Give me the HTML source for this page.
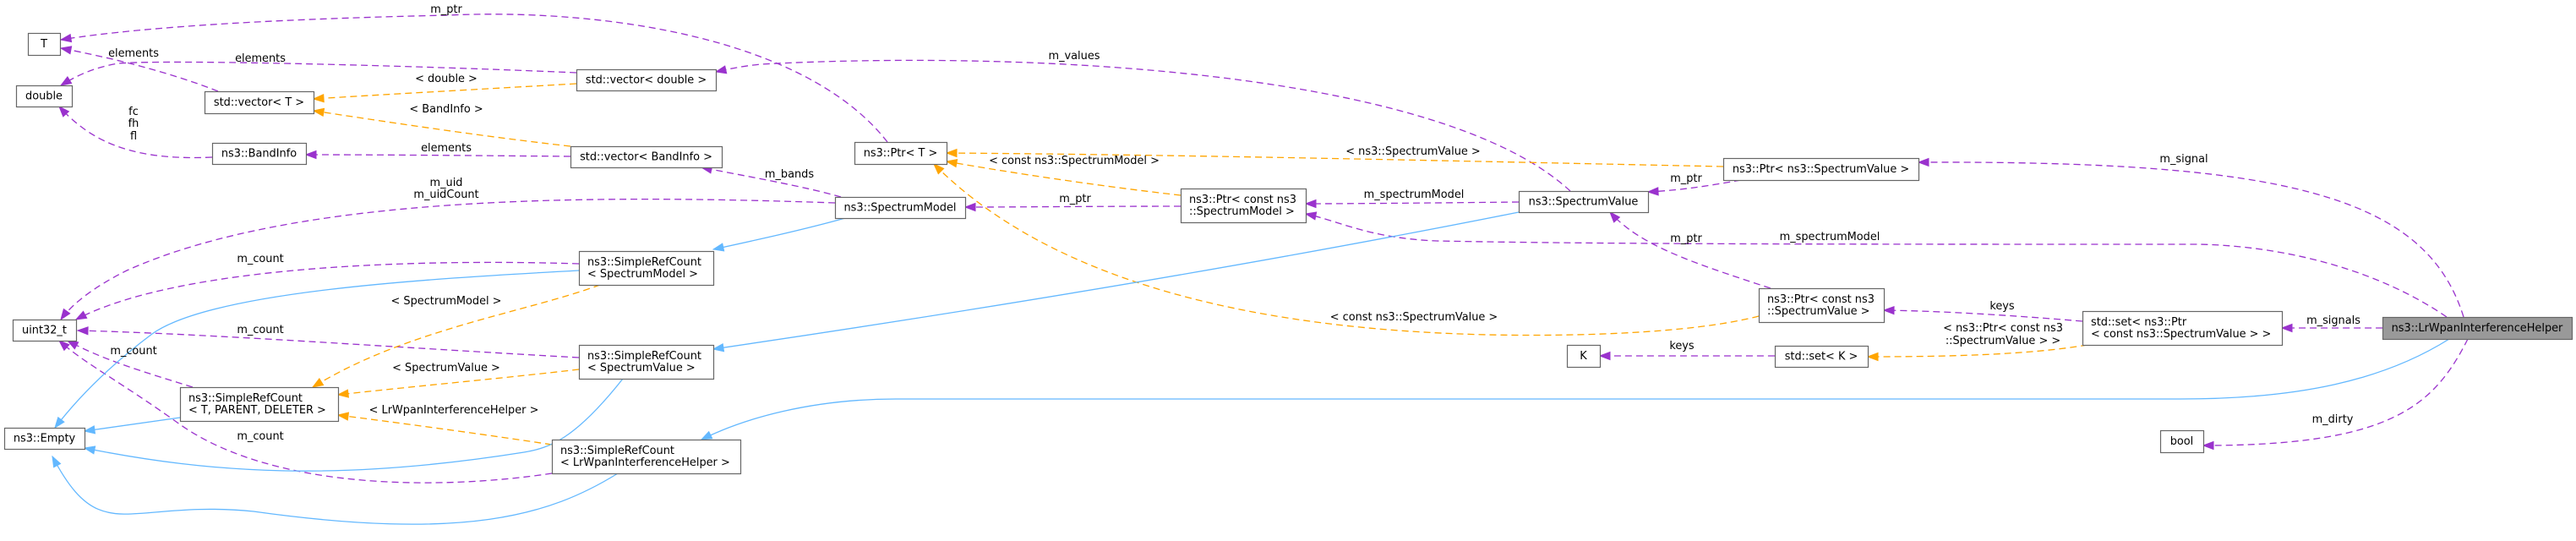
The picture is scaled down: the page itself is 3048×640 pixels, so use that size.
<!DOCTYPE html>
<html><head><meta charset="utf-8"><style>
html,body{margin:0;padding:0;background:#fff;}
svg{display:block;}
text{font-family:"DejaVu Sans","Liberation Sans",sans-serif;font-size:12.9px;fill:#000;}
</style></head><body>
<svg id="g" width="3048" height="640" viewBox="0 0 3048 640" xmlns="http://www.w3.org/2000/svg">
<g id="edges"></g><g id="nodes"></g><g id="labels"></g>
</svg>
<script>
const NS="http://www.w3.org/2000/svg";
const nodes=[
["node-t",33,39,71,65,["T"]],
["node-double",19,101,85,126,["double"]],
["node-vector-t",242,108,371,134,["std::vector< T >"]],
["node-vector-double",682,82,847,107,["std::vector< double >"]],
["node-bandinfo",251,169,362,194,["ns3::BandInfo"]],
["node-vector-bandinfo",675,173,854,198,["std::vector< BandInfo >"]],
["node-spectrummodel",988,233,1142,258,["ns3::SpectrumModel"]],
["node-src-spectrummodel",685,297,844,337,["ns3::SimpleRefCount","< SpectrumModel >"]],
["node-uint32",15,378,90,403,["uint32_t"]],
["node-empty",5,506,100,531,["ns3::Empty"]],
["node-src-generic",213,458,400,498,["ns3::SimpleRefCount","< T, PARENT, DELETER >"]],
["node-src-spectrumvalue",685,408,844,448,["ns3::SimpleRefCount","< SpectrumValue >"]],
["node-src-lrwpan",653,520,876,560,["ns3::SimpleRefCount","< LrWpanInterferenceHelper >"]],
["node-ptr-t",1011,168,1120,194,["ns3::Ptr< T >"]],
["node-ptr-const-spectrummodel",1397,223,1545,263,["ns3::Ptr< const ns3","::SpectrumModel >"]],
["node-spectrumvalue",1797,226,1950,251,["ns3::SpectrumValue"]],
["node-k",1854,408,1893,434,["K"]],
["node-ptr-spectrumvalue",2039,187,2270,213,["ns3::Ptr< ns3::SpectrumValue >"]],
["node-ptr-const-spectrumvalue",2081,341,2229,381,["ns3::Ptr< const ns3","::SpectrumValue >"]],
["node-set-k",2100,409,2210,434,["std::set< K >"]],
["node-set-ptr",2464,368,2700,408,["std::set< ns3::Ptr","< const ns3::SpectrumValue > >"]],
["node-lrwpan-helper",2819,375,3043,401,["ns3::LrWpanInterferenceHelper"]],
["node-bool",2556,509,2607,535,["bool"]]
];
const P="#9a32cd",O="#ffa500",B="#63b8ff";
const edges=[
["edge-m-ptr-t",P,"M1050,168 C950,40 700,10 530,18 C350,22 180,30 72,47"],
["edge-elements-t",P,"M258,108 C200,85 130,68 72,57"],
["edge-elements-double",P,"M682,86 C500,78 200,70 140,75 C110,80 90,90 72,101"],
["edge-m-values",P,"M1858,226 C1700,80 1200,60 900,76 C880,78 865,81 847,85"],
["edge-fc-fh-fl",P,"M251,186 C160,190 110,170 70,126"],
["edge-elements-bandinfo",P,"M675,185 C560,184 450,183 362,183"],
["edge-m-bands",P,"M995,233 C950,220 880,208 830,198"],
["edge-m-uid",P,"M988,240 C700,230 350,230 150,320 C110,340 85,360 72,378"],
["edge-m-count-srcsm",P,"M685,312 C450,305 200,320 90,378"],
["edge-m-count-srcsv",P,"M685,423 C450,410 250,395 92,391"],
["edge-m-count-generic",P,"M228,458 C170,440 120,425 80,403"],
["edge-m-count-lrwpan",P,"M653,560 C520,580 320,580 210,500 C140,450 100,430 70,403"],
["edge-m-ptr-sm",P,"M1397,244 C1300,244 1200,245 1142,245"],
["edge-m-spectrummodel-sv",P,"M1797,239 C1700,240 1600,241 1545,241"],
["edge-m-ptr-sv",P,"M2060,213 C2020,220 1990,225 1950,227"],
["edge-m-spectrummodel-lr",P,"M2895,375 C2800,310 2680,290 2600,289 C2200,289 1900,289 1700,285 C1620,282 1580,260 1545,253"],
["edge-m-signal",P,"M2915,375 C2870,230 2700,190 2270,192"],
["edge-m-ptr-csv",P,"M2095,341 C2000,310 1940,290 1905,251"],
["edge-keys-csv",P,"M2464,380 C2380,373 2300,368 2229,367"],
["edge-keys-k",P,"M2100,421 C2020,421 1950,421 1893,421"],
["edge-m-signals",P,"M2819,388 C2780,388 2740,388 2700,388"],
["edge-m-dirty",P,"M2920,401 C2880,480 2830,527 2607,527"],
["edge-tmpl-double",O,"M682,99 C560,106 450,112 371,117"],
["edge-tmpl-bandinfo",O,"M675,173 C560,160 450,143 371,131"],
["edge-tmpl-sv",O,"M2039,197 C1700,190 1400,183 1120,181"],
["edge-tmpl-csm",O,"M1397,231 C1300,220 1200,205 1120,191"],
["edge-tmpl-csv",O,"M2081,374 C2000,395 1860,398 1760,396 C1500,390 1250,340 1105,194"],
["edge-tmpl-srcsm",O,"M710,337 C620,370 480,390 370,458"],
["edge-tmpl-srcsv",O,"M685,437 C600,447 480,458 400,467"],
["edge-tmpl-srclr",O,"M653,526 C560,512 470,500 400,491"],
["edge-tmpl-setk",O,"M2470,408 C2400,420 2300,422 2210,422"],
["edge-inh-sm",B,"M1000,258 C950,272 890,285 844,295"],
["edge-inh-srcsm",B,"M685,320 C500,330 250,345 180,395 C120,440 85,480 65,506"],
["edge-inh-generic",B,"M213,494 C170,500 130,506 100,510"],
["edge-inh-srcsv",B,"M737,448 C680,520 650,530 620,535 C400,570 250,560 100,530"],
["edge-inh-srcsv2",B,"M1797,251 C1400,330 1000,390 844,413"],
["edge-inh-srclr",B,"M731,560 C650,610 550,640 300,605 C150,590 120,650 62,540"],
["edge-inh-lr",B,"M2898,401 C2820,450 2720,472 2580,472 L1060,472 C960,472 880,495 830,520"]
];
const labels=[
["m_ptr",528,15],["elements",158,67],["elements",308,73],["m_values",1271,70],
["fc",158,136],["fh",158,150],["fl",158,165],["elements",528,179],["m_bands",934,210],
["m_uid",528,220],["m_uidCount",528,234],["m_count",308,310],["m_count",308,394],["m_count",158,419],["m_count",308,520],
["m_ptr",1272,239],["m_spectrumModel",1673,234],["m_ptr",1995,215],["m_spectrumModel",2165,284],["m_signal",2584,192],
["m_ptr",1995,286],["keys",2369,366],["keys",1990,413],["m_signals",2761,383],["m_dirty",2760,500],
["< double >",528,97],["< BandInfo >",528,133],["< ns3::SpectrumValue >",1672,183],["< const ns3::SpectrumModel >",1271,194],
["< const ns3::SpectrumValue >",1673,379],["< SpectrumModel >",528,360],["< SpectrumValue >",528,439],["< LrWpanInterferenceHelper >",537,489],
["< ns3::Ptr< const ns3",2370,392],["::SpectrumValue > >",2370,407]
];
const eg=document.getElementById('edges'),ng=document.getElementById('nodes'),lg=document.getElementById('labels');
function txt(parent,s,x,y,anchor){
  const t=document.createElementNS(NS,'text');
  t.setAttribute('x',x);t.setAttribute('y',y);
  t.setAttribute('text-anchor',anchor||'middle');
  t.textContent=s;
  parent.appendChild(t);return t;
}
nodes.forEach(n=>{
  const [name,x1,y1,x2,y2,lines]=n;
  const g=document.createElementNS(NS,'g');
  
  
  const r=document.createElementNS(NS,'rect');
  r.setAttribute('x',x1+0.5);r.setAttribute('y',y1+0.5);
  r.setAttribute('width',x2-x1);r.setAttribute('height',y2-y1);
  r.setAttribute('fill',name==='node-lrwpan-helper'?'#999999':'#ffffff');
  r.setAttribute('stroke','#666666');r.setAttribute('stroke-width','1.2');
  g.appendChild(r);
  const cy=(y1+y2)/2;
  if(lines.length===1){ txt(g,lines[0],(x1+x2)/2,cy+4,'middle'); }
  else { txt(g,lines[0],x1+10,cy-3,'start'); txt(g,lines[1],x1+10,cy+11,'start'); }
  ng.appendChild(g);
});
edges.forEach(e=>{
  const [name,col,d]=e;
  const p=document.createElementNS(NS,'path');
  
  
  p.setAttribute('d',d);p.setAttribute('fill','none');p.setAttribute('stroke',col);
  p.setAttribute('stroke-width','1.3');
  if(col!==B)p.setAttribute('stroke-dasharray','8,5');
  eg.appendChild(p);
  const nums=d.match(/-?\d+(\.\d+)?/g).map(Number);
  const ex=nums[nums.length-2],ey=nums[nums.length-1],px=nums[nums.length-4],py=nums[nums.length-3];
  let dx=ex-px,dy=ey-py;const L=Math.hypot(dx,dy)||1;dx/=L;dy/=L;
  const len=12,w=4.5;
  const bx=ex-dx*len,by=ey-dy*len;
  const a=document.createElementNS(NS,'polygon');
  
  
  a.setAttribute('points',ex+','+ey+' '+(bx-dy*w)+','+(by+dx*w)+' '+(bx+dy*w)+','+(by-dx*w));
  a.setAttribute('fill',col);a.setAttribute('stroke',col);
  eg.appendChild(a);
});
labels.forEach(l=>{
  const t=txt(lg,l[0],l[1],l[2],'middle');
  
  
});
</script>
</body></html>
